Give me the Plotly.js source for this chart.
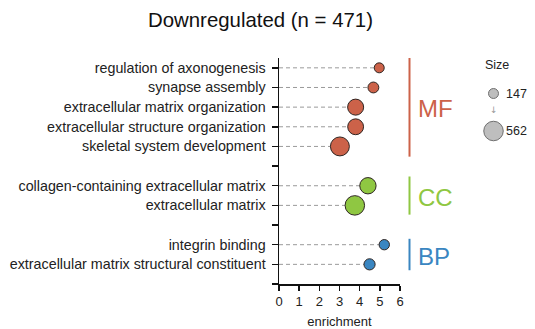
<!DOCTYPE html>
<html>
<head>
<meta charset="utf-8">
<script src="https://cdn.plot.ly/plotly-3.0.1.min.js"></script>
<style>html,body{margin:0;padding:0;background:#fff;}#chart{width:535px;height:329px;}</style>
</head>
<body>
<div id="chart"></div>
<script>
// ---- data ----
var groups = ["MF", "CC", "BP"];
var mfTerms = ["regulation of axonogenesis", "synapse assembly", "extracellular matrix organization", "extracellular structure organization", "skeletal system development"];
var mfEnrichment = [4.97, 4.68, 3.80, 3.80, 3.02];
var mfSize = [147, 175, 380, 372, 530];
var ccTerms = ["collagen-containing extracellular matrix", "extracellular matrix"];
var ccEnrichment = [4.41, 3.76];
var ccSize = [395, 562];
var bpTerms = ["integrin binding", "extracellular matrix structural constituent"];
var bpEnrichment = [5.22, 4.49];
var bpSize = [158, 185];
var xTickVals = [0, 1, 2, 3, 4, 5, 6];
var titleText = "Downregulated (n = 471)";
var xTitle = "enrichment";
var sizeLegendTitle = "Size";

// ---- styles ----
var FONT = '"Liberation Sans", Arial, Helvetica, sans-serif';
var colors = {MF: "#cc6249", CC: "#8fc742", BP: "#3a86c1"};
var groupHalf = {MF: 2.52, CC: 0.97, BP: 0.8};
var SIZEREF = 2.956;

var groupData = {
  MF: {terms: mfTerms, x: mfEnrichment, s: mfSize},
  CC: {terms: ccTerms, x: ccEnrichment, s: ccSize},
  BP: {terms: bpTerms, x: bpEnrichment, s: bpSize}
};

// assign row positions top->bottom with a blank row between groups
var nRows = 0;
groups.forEach(function(g, i){ nRows += groupData[g].terms.length + (i > 0 ? 1 : 0); });
var pos = nRows;
var tickvals = [0], ticktext = [""];
groups.forEach(function(g, i){
  if (i > 0) { tickvals.push(pos); ticktext.push(""); pos--; }
  groupData[g].y = [];
  groupData[g].terms.forEach(function(t){
    groupData[g].y.push(pos); tickvals.push(pos); ticktext.push(t); pos--;
  });
});

var traces = [];
// dashed guides
var gx = [], gy = [];
groups.forEach(function(g){
  var d = groupData[g];
  d.x.forEach(function(v, k){ gx.push(0, v, null); gy.push(d.y[k], d.y[k], null); });
});
traces.push({x: gx, y: gy, mode: "lines", type: "scatter", hoverinfo: "skip",
  line: {color: "#9a9a9a", width: 1, dash: "4px,3px"}, showlegend: false, cliponaxis: false});
groups.forEach(function(g){
  var d = groupData[g];
  traces.push({x: d.x, y: d.y, text: d.terms, mode: "markers", type: "scatter", name: g,
    marker: {size: d.s, sizemode: "area", sizeref: SIZEREF, color: colors[g],
      line: {color: "#2e2522", width: 1}, opacity: 1},
    showlegend: false, cliponaxis: false});
});
// size legend
var allSizes = mfSize.concat(ccSize, bpSize);
var sMin = Math.min.apply(null, allSizes), sMax = Math.max.apply(null, allSizes);
traces.push({x: [0.5, 0.5], y: [1, 0], mode: "markers", type: "scatter", xaxis: "x2", yaxis: "y2",
  marker: {size: [sMin, sMax], sizemode: "area", sizeref: SIZEREF, color: "#a3a3a3",
    line: {color: "#333", width: 1}}, showlegend: false, hoverinfo: "skip", cliponaxis: false});

var annotations = [];
var shapes = [];
groups.forEach(function(g){
  var ys = groupData[g].y;
  var c = (Math.max.apply(null, ys) + Math.min.apply(null, ys)) / 2;
  shapes.push({type: "line", xref: "paper", yref: "y", x0: 409.5/535, x1: 409.5/535,
    y0: c - groupHalf[g], y1: c + groupHalf[g], line: {color: colors[g], width: 2}});
  annotations.push({xref: "paper", yref: "y", x: 416/535, y: c - 0.08, xanchor: "left", yanchor: "middle",
    text: g, showarrow: false, font: {family: FONT, size: 24, color: colors[g]}});
});
annotations.push({xref: "paper", yref: "paper", x: 497/535, y: 1 - 65/329, xanchor: "center", yanchor: "middle",
  text: sizeLegendTitle, showarrow: false, font: {family: FONT, size: 12.5, color: "#222"}});
annotations.push({xref: "x2", yref: "y2", x: 0.5, y: 0.55, xanchor: "center", yanchor: "middle",
  text: "↓", showarrow: false, font: {family: "DejaVu Sans", size: 9, color: "#999"}});
annotations.push({xref: "x2", yref: "y2", x: 0.85, y: 1, xanchor: "left", yanchor: "middle",
  text: String(sMin), showarrow: false, font: {family: FONT, size: 12.5, color: "#222"}});
annotations.push({xref: "x2", yref: "y2", x: 0.85, y: 0, xanchor: "left", yanchor: "middle",
  text: String(sMax), showarrow: false, font: {family: FONT, size: 12.5, color: "#222"}});

var layout = {
  width: 535, height: 329,
  margin: {l: 0, r: 0, t: 0, b: 0, autoexpand: false},
  paper_bgcolor: "#fff", plot_bgcolor: "rgba(0,0,0,0)",
  font: {family: FONT, color: "#222"},
  title: {text: titleText, x: 260.5/535, xanchor: "center", y: 1 - 20/329, yanchor: "middle",
    font: {family: FONT, size: 20.4, color: "#111"}},
  xaxis: {domain: [279/535, 400/535], range: [0, 6], tickvals: xTickVals, ticks: "outside",
    ticklen: 5, tickwidth: 1.5, tickcolor: "#111", showline: true, linecolor: "#111", linewidth: 1.5,
    showgrid: false, zeroline: false, tickfont: {family: FONT, size: 13, color: "#222"},
    title: {text: xTitle, standoff: 9, font: {family: FONT, size: 13, color: "#222"}}, automargin: false},
  yaxis: {domain: [45/329, 271/329], range: [0, nRows + 0.5], tickvals: tickvals, ticktext: ticktext,
    ticks: "outside", ticklen: 6, tickwidth: 1.5, tickcolor: "#111", showline: true, linecolor: "#111",
    linewidth: 1.5, showgrid: false, zeroline: false, ticklabelstandoff: 3,
    tickfont: {family: FONT, size: 14.3, color: "#222"}, automargin: false},
  xaxis2: {domain: [478.5/535, 508.5/535], range: [0, 1], visible: false, fixedrange: true},
  yaxis2: {domain: [1 - 149.75/329, 1 - 74.75/329], range: [-0.5, 1.5], visible: false, fixedrange: true},
  shapes: shapes,
  annotations: annotations,
  showlegend: false
};

Plotly.newPlot("chart", traces, layout, {displayModeBar: false, staticPlot: true});
</script>
</body>
</html>
